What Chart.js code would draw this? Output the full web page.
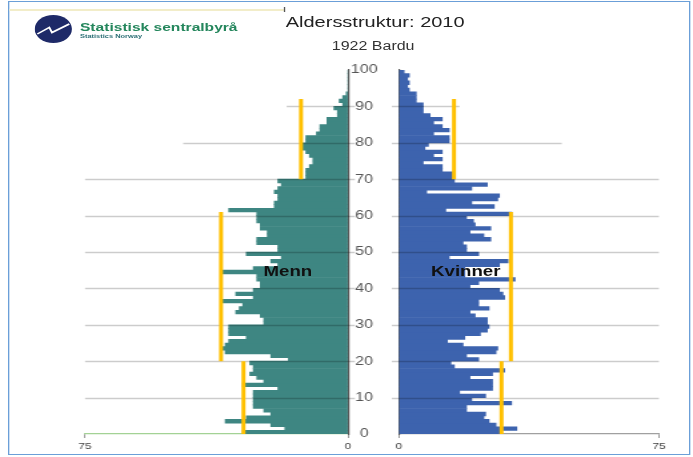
<!DOCTYPE html>
<html>
<head>
<meta charset="utf-8">
<script src="https://cdn.jsdelivr.net/npm/chart.js@4.4.1/dist/chart.umd.min.js"></script>
<style>
  html, body { margin: 0; padding: 0; background: #fff; }
  /* the reference is stretched sideways, so draw narrow and stretch the whole page */
  #wrap {
    position: relative; width: 520px; height: 457px; overflow: hidden;
    transform: scaleX(1.3327); transform-origin: 0 0;
    font-family: "Liberation Sans", Arial, sans-serif;
  }
  canvas { position: absolute; left: 0; top: 0; }
  .frame { position: absolute; left: 6px; top: 1px; width: 510px; height: 452px; border: 1.5px solid #6b9fd8; }
  .band { position: absolute; left: 7px; top: 9px; width: 206px; height: 2px; background: #f2edc9; }
  .tick { position: absolute; left: 213px; top: 7px; width: 1px; height: 5px; background: #555; }
  .txt { position: absolute; white-space: nowrap; transform: translate(-50%, -50%); }
  .ssb { position: absolute; left: 60px; top: 21px; font-size: 11.7px; line-height: 12px; font-weight: bold; color: #24865c; white-space: nowrap; }
  .ssb2 { position: absolute; left: 60px; top: 33px; font-size: 5.6px; line-height: 6px; font-weight: bold; color: #2a6e74; white-space: nowrap; }
</style>
</head>
<body>
<div id="wrap">
  <div class="frame"></div>
  <div class="band"></div>
  <div class="tick"></div>
  <svg style="position:absolute;left:26px;top:15px" width="28" height="28" viewBox="0 0 28 28">
    <circle cx="14" cy="14" r="14" fill="#1e2a68"/>
    <polyline points="2,19 11,12.5 13,17.5 26,9" stroke="#fff" stroke-width="1.5" fill="none"/>
  </svg>
  <div class="ssb">Statistisk sentralbyrå</div>
  <div class="ssb2">Statistics Norway</div>
  <div class="txt" style="left:281.5px;top:21px;font-size:15px;color:#222">Aldersstruktur: 2010</div>
  <div class="txt" style="left:280px;top:46px;font-size:12px;color:#333">1922 Bardu</div>
  <canvas id="mennChart" width="520" height="457"></canvas>
  <canvas id="kvinnerChart" width="520" height="457"></canvas>
  <div class="txt" style="left:216px;top:271px;font-size:14px;font-weight:bold;color:#111">Menn</div>
  <div class="txt" style="left:349.5px;top:271px;font-size:14px;font-weight:bold;color:#111">Kvinner</div>
</div>
<script>
const ages = Array.from({ length: 100 }, (_, i) => i);

const menn = [
  30, 18, 22, 35, 29, 22, 24, 27, 27, 27,
  27, 27, 20, 30, 24, 26, 28, 27, 27, 28,
  17, 22, 35, 36, 35, 34, 29, 34, 34, 34,
  24, 24, 25, 32, 31, 30, 36, 27, 32, 27,
  25, 25, 26, 26, 36, 27, 20, 22, 19, 29,
  20, 20, 26, 26, 23, 23, 25, 25, 26, 26,
  26, 34, 21, 21, 20, 20, 21, 20, 19, 20,
  12, 12, 12, 11, 10, 10, 11, 12, 13, 13,
  12, 12, 9, 8, 8, 6, 6, 3, 3, 4,
  1.5, 2.5, 1.5, 0.5, 0, 0, 0, 0, 0, 0
];

const kvinner = [
  29, 34, 28, 26, 24.5, 25, 19.5, 19.5, 32.5, 21,
  25, 17.5, 27, 27, 27, 20.5, 27, 30.5, 16, 15,
  23, 19.5, 28, 28.5, 18.5, 14, 19, 23.5, 25.5, 26,
  25.5, 25.5, 22, 20.5, 26, 23, 23, 30.5, 30, 29,
  20.5, 23, 33.5, 19, 19, 19, 29, 31.5, 14.5, 23,
  19.5, 19.5, 18.5, 26.5, 24.5, 20.5, 26.5, 22, 21.5, 19.5,
  32.5, 13.5, 27.5, 21, 28.5, 29, 8, 21, 25.5, 16,
  16, 16, 12.5, 12.5, 7, 12.5, 10, 12.5, 7.5, 8.5,
  14.5, 14.5, 10, 14.5, 12.5, 10, 12.5, 9, 7, 7,
  7, 5, 5, 5, 3, 2.5, 3, 2.5, 3, 1.5
];

// yellow reference lines: age spans and the level for each span
const refSpans = [[0, 20], [20, 61], [70, 92]];
const mennRef = [29.8, 36.2, 13.4];
const kvinnerRef = [29.6, 32.3, 15.9];

const gridAges = [10, 20, 30, 40, 50, 60, 70, 80, 90];
const xTicks = [0, 75];

const FONT = '"Liberation Sans", Arial, sans-serif';

// horizontal age lines, drawn over the bars; the upper ones are shorter
const gridReach = [75, 75, 75, 75, 75, 75, 75, 47, 17.5];
const ageGrid = {
    id: 'ageGrid',
    afterDatasetDraw(chart, args, opts) {
        if (args.meta.type !== 'bar') return;
        const { ctx } = chart;
        const xs = chart.scales.x, ys = chart.scales.y;
        ctx.save();
        ctx.strokeStyle = 'rgba(0,0,0,0.2)';
        ctx.lineWidth = 1.4;
        gridAges.forEach((age, i) => {
            const py = Math.round(ys.getPixelForValue(age)) + 0.5;
            ctx.beginPath();
            ctx.moveTo(xs.getPixelForValue(0) + opts.overhang, py);
            ctx.lineTo(xs.getPixelForValue(gridReach[i]), py);
            ctx.stroke();
        });
        ctx.restore();
    }
};

function sideChart(id, values, refs, o) {
    const left = o.side === 'left';
    return new Chart(document.getElementById(id), {
        type: 'bar',
        data: {
            datasets: [
                {
                    type: 'bar',
                    data: ages.map((a, i) => ({ x: values[i], y: a + 0.5 })),
                    backgroundColor: o.color,
                    borderWidth: 0,
                    barPercentage: 1,
                    categoryPercentage: 1,
                    order: 2
                },
                ...refSpans.map((span, i) => ({
                    type: 'line',
                    data: [{ x: refs[i], y: span[0] }, { x: refs[i], y: span[1] }],
                    borderColor: '#ffc000',
                    borderWidth: 3,
                    pointRadius: 0,
                    fill: false,
                    order: 1
                }))
            ]
        },
        options: {
            indexAxis: 'y',
            responsive: false,
            animation: false,
            layout: { padding: o.padding },
            plugins: {
                legend: { display: false },
                tooltip: { enabled: false },
                ageGrid: { overhang: left ? 5.25 : -5.25 }
            },
            scales: {
                x: {
                    type: 'linear', min: 0, max: 75, reverse: left,
                    afterBuildTicks: s => { s.ticks = xTicks.map(v => ({ value: v })); },
                    afterFit: s => { s.height = 23; s.paddingLeft = 0; s.paddingRight = 0; },
                    ticks: { font: { size: 9, family: FONT }, color: '#444', padding: 3, maxRotation: 0 },
                    grid: { display: true, drawOnChartArea: false, drawTicks: true, tickLength: 4, color: '#999' },
                    border: { display: true, color: left ? '#a3d295' : '#a0a0a0', width: 1.2 }
                },
                y: {
                    type: 'linear', min: 0, max: 100, offset: false,
                    position: left ? 'right' : 'left',
                    afterFit: s => { s.width = left ? 0 : 35.3; s.paddingTop = 0; s.paddingBottom = 0; },
                    ticks: {
                        display: !left, stepSize: 10, crossAlign: 'center', padding: 8,
                        font: { size: 12, family: FONT }, color: '#555'
                    },
                    grid: { display: false },
                    border: { display: true, color: '#555', width: 1.2 }
                }
            }
        },
        plugins: [ageGrid]
    });
}

sideChart('mennChart', menn, mennRef, {
    side: 'left', color: '#3e8682',
    padding: { left: 63.8, right: 258.9, top: 70, bottom: 0 }
});

sideChart('kvinnerChart', kvinner, kvinnerRef, {
    side: 'right', color: '#3d63ae',
    padding: { left: 264, right: 25.6, top: 70, bottom: 0 }
});
</script>
</body>
</html>
